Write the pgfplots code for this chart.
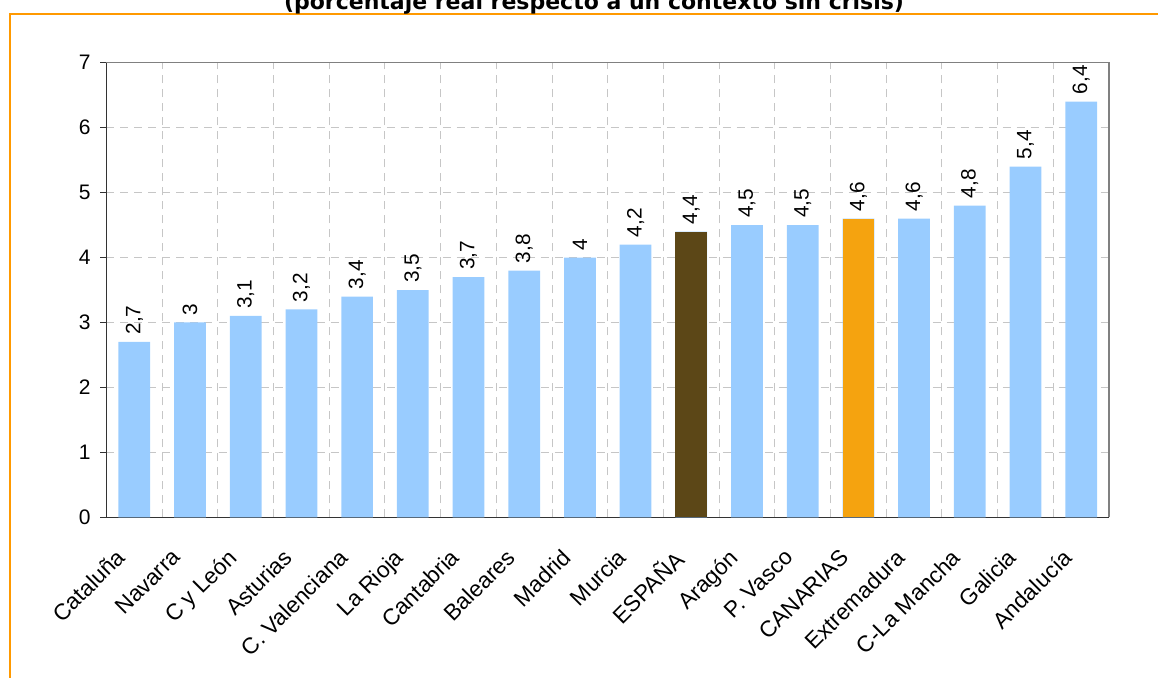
\documentclass[border=0pt]{standalone}
\usepackage{pgfplots}
\pgfplotsset{compat=1.18}
\usepackage{fontspec}
\setmainfont{Liberation Sans}
\newfontfamily\titlefont{DejaVu Sans}
\definecolor{barblue}{HTML}{99CCFF}
\definecolor{barbrown}{HTML}{5C4717}
\definecolor{barorange}{HTML}{F5A30F}
\definecolor{frameorange}{HTML}{FF9900}
\begin{document}
\begin{tikzpicture}
\useasboundingbox (0,0) rectangle (579pt,338.5pt);
\draw[frameorange, line width=1pt] (5pt,-5pt) -- (5pt,331.5pt) -- (590pt,331.5pt);
\node[anchor=base, inner sep=0pt, font=\titlefont\bfseries\fontsize{11}{12}\selectfont]
  at (297pt,334pt) {(porcentaje real respecto a un contexto sin crisis)};
\begin{axis}[
  at={(53.25pt,79.85pt)}, anchor=south west,
  width=501.25pt, height=227.3pt, scale only axis,
  xmin=-0.5, xmax=17.5, ymin=0, ymax=7,
  axis x line*=bottom, axis y line*=left,
  axis line style={black!80, line width=0.6pt},
  xtick={0,...,17},
  xticklabels={Cataluña, Navarra, C y León, Asturias, C. Valenciana, La Rioja, Cantabria, Baleares, Madrid, Murcia, ESPAÑA, Aragón, P. Vasco, CANARIAS, Extremadura, C-La Mancha, Galicia, Andalucía},
  xtick style={draw=none},
  minor xtick={-0.5,0.5,...,17.5},
  ytick={0,...,7},
  tick align=outside,
  major tick length=3pt, minor tick length=3pt,
  every tick/.style={black!80, line width=0.6pt},
  minor x tick style={black!80, line width=0.6pt},
  ymajorgrids, xminorgrids,
  major grid style={gray!45, dash pattern=on 4pt off 3pt, line width=0.5pt},
  minor grid style={gray!45, dash pattern=on 4pt off 3pt, line width=0.5pt},
  yticklabel style={font=\fontsize{10.5}{12}\selectfont, xshift=-1.5pt},
  xticklabel style={font=\fontsize{11.3}{12}\selectfont, rotate=45, anchor=north east, inner sep=0pt, xshift=-15.3pt, yshift=-1.5pt},
  /pgf/number format/assume math mode=true,
  /pgf/number format/use comma,
  clip=false,
]
\addplot[ybar, bar width=0.57, fill=barblue, draw=none,
  nodes near coords, every node near coord/.append style={rotate=90, anchor=west, font=\fontsize{10.4}{12}\selectfont, inner sep=3.5pt}]
  coordinates {(0,2.7) (1,3) (2,3.1) (3,3.2) (4,3.4) (5,3.5) (6,3.7) (7,3.8) (8,4) (9,4.2)
  (10,4.4) (11,4.5) (12,4.5) (13,4.6) (14,4.6) (15,4.8) (16,5.4) (17,6.4)};
\addplot[ybar, bar width=0.57, fill=barbrown, draw=none] coordinates {(10,4.4)};
\addplot[ybar, bar width=0.57, fill=barorange, draw=none] coordinates {(13,4.6)};
\draw[gray, line width=0.6pt] (rel axis cs:0,1) -- (rel axis cs:1,1) -- (rel axis cs:1,0);
\end{axis}
\end{tikzpicture}
\end{document}
